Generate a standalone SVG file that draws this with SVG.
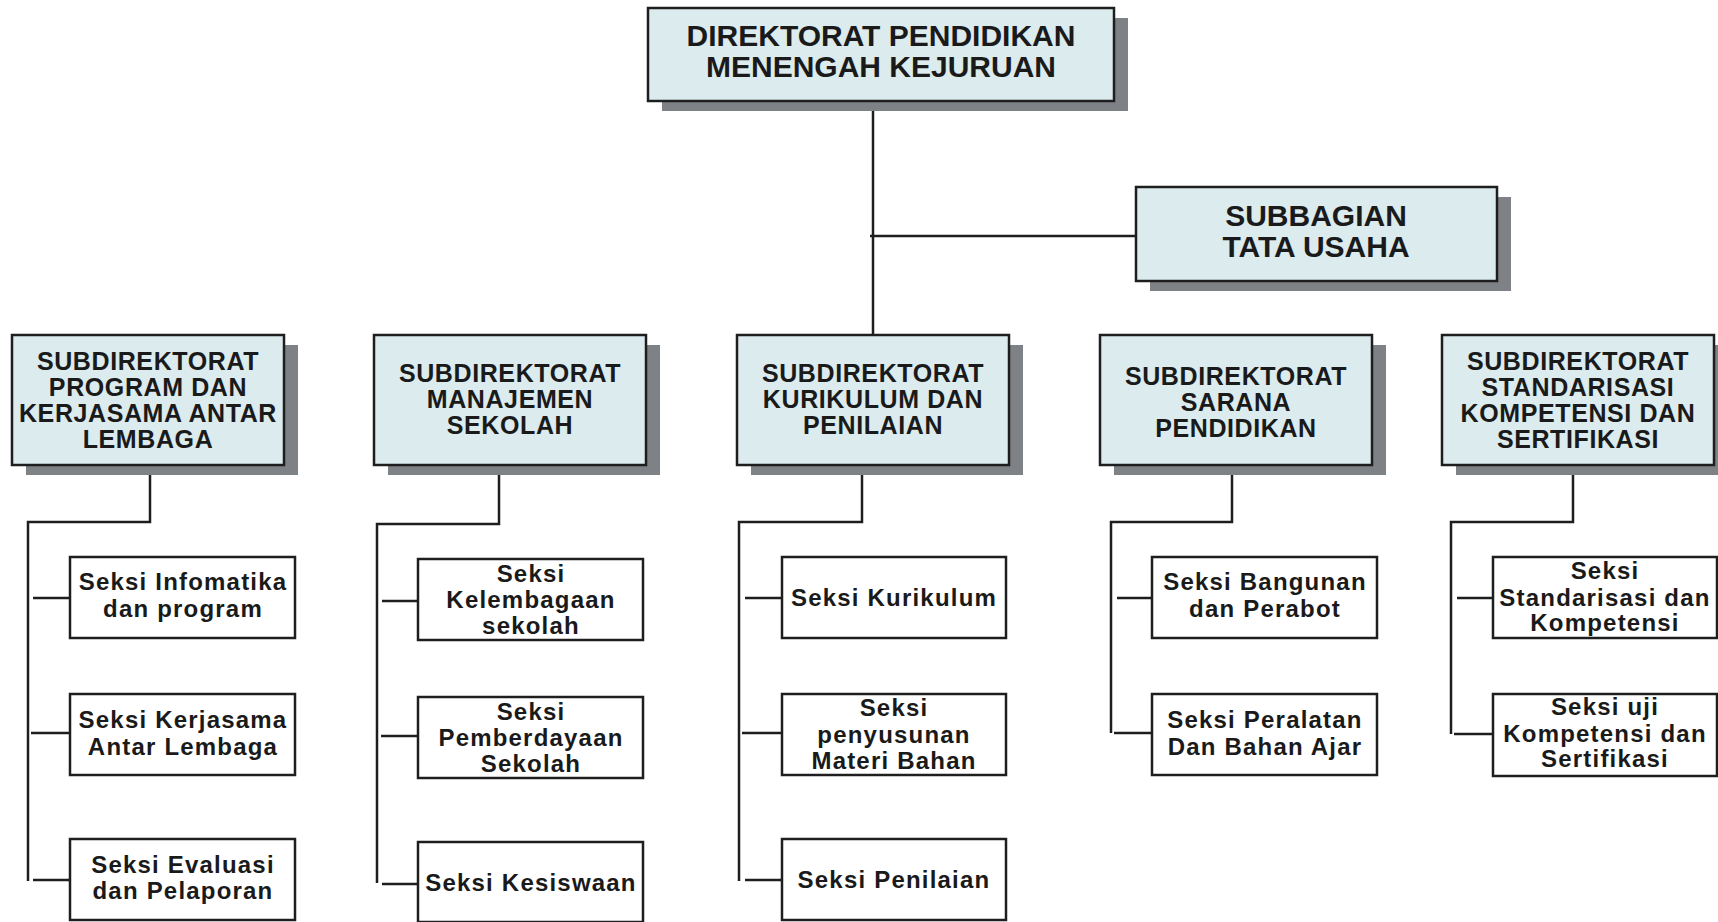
<svg xmlns="http://www.w3.org/2000/svg" width="1718" height="922" viewBox="0 0 1718 922">
<style>
.bg{fill:#ffffff}
.sh{fill:#7e8185}
.bx{fill:#dbebee;stroke:#1e1e1e;stroke-width:2.5}
.ch{fill:#ffffff;stroke:#1e1e1e;stroke-width:2.5}
.ln{fill:none;stroke:#1e1e1e;stroke-width:2.5}
text{font-family:"Liberation Sans",Arial,sans-serif;font-weight:bold;fill:#1a1a1a;text-anchor:middle}
.t1{font-size:30px}
.t2{font-size:25px;letter-spacing:0.6px}
.t3{font-size:24px;letter-spacing:1.2px}
</style>
<rect class="bg" x="0" y="0" width="1718" height="922"/>

<g id="connectors">
<path class="ln" d="M873,101 V335"/>
<path class="ln" d="M870,236 H1136"/>
<path class="ln" d="M150,465 V522 H28 V881"/>
<path class="ln" d="M33,598 H70 M31,733 H70 M33,880 H70"/>
<path class="ln" d="M499,465 V524 H377 V883"/>
<path class="ln" d="M382,601 H418 M381,736 H418 M382,884 H418"/>
<path class="ln" d="M862,465 V522 H739 V881"/>
<path class="ln" d="M745,598 H782 M742,733 H782 M745,880 H782"/>
<path class="ln" d="M1232,465 V522 H1111 V733"/>
<path class="ln" d="M1117,598 H1152 M1114,733 H1152"/>
<path class="ln" d="M1573,465 V522 H1451 V734"/>
<path class="ln" d="M1457,598 H1493 M1454,734 H1493"/>
</g>

<g id="direktorat">
<rect class="sh" x="662" y="18" width="466" height="93"/>
<rect class="bx" x="648" y="8" width="466" height="93"/>
<text class="t1" x="881" y="46">DIREKTORAT PENDIDIKAN</text>
<text class="t1" x="881" y="77">MENENGAH KEJURUAN</text>
</g>

<g id="subbagian">
<rect class="sh" x="1150" y="197" width="361" height="94"/>
<rect class="bx" x="1136" y="187" width="361" height="94"/>
<text class="t1" x="1316" y="226">SUBBAGIAN</text>
<text class="t1" x="1316" y="257">TATA USAHA</text>
</g>

<g id="sub1">
<rect class="sh" x="26" y="345" width="272" height="130"/>
<rect class="bx" x="12" y="335" width="272" height="130"/>
<text class="t2" x="148" y="370">SUBDIREKTORAT</text>
<text class="t2" x="148" y="396">PROGRAM DAN</text>
<text class="t2" x="148" y="422">KERJASAMA ANTAR</text>
<text class="t2" x="148" y="448">LEMBAGA</text>
</g>

<g id="sub2">
<rect class="sh" x="388" y="345" width="272" height="130"/>
<rect class="bx" x="374" y="335" width="272" height="130"/>
<text class="t2" x="510" y="382">SUBDIREKTORAT</text>
<text class="t2" x="510" y="408">MANAJEMEN</text>
<text class="t2" x="510" y="434">SEKOLAH</text>
</g>

<g id="sub3">
<rect class="sh" x="751" y="345" width="272" height="130"/>
<rect class="bx" x="737" y="335" width="272" height="130"/>
<text class="t2" x="873" y="382">SUBDIREKTORAT</text>
<text class="t2" x="873" y="408">KURIKULUM DAN</text>
<text class="t2" x="873" y="434">PENILAIAN</text>
</g>

<g id="sub4">
<rect class="sh" x="1114" y="345" width="272" height="130"/>
<rect class="bx" x="1100" y="335" width="272" height="130"/>
<text class="t2" x="1236" y="385">SUBDIREKTORAT</text>
<text class="t2" x="1236" y="411">SARANA</text>
<text class="t2" x="1236" y="437">PENDIDIKAN</text>
</g>

<g id="sub5">
<rect class="sh" x="1456" y="345" width="272" height="130"/>
<rect class="bx" x="1442" y="335" width="272" height="130"/>
<text class="t2" x="1578" y="370">SUBDIREKTORAT</text>
<text class="t2" x="1578" y="396">STANDARISASI</text>
<text class="t2" x="1578" y="422">KOMPETENSI DAN</text>
<text class="t2" x="1578" y="448">SERTIFIKASI</text>
</g>

<g id="seksi-informatika">
<rect class="ch" x="70" y="557" width="225" height="81"/>
<text class="t3" x="183" y="590">Seksi Infomatika</text>
<text class="t3" x="183" y="617">dan program</text>
</g>
<g id="seksi-kerjasama">
<rect class="ch" x="70" y="694" width="225" height="81"/>
<text class="t3" x="183" y="728">Seksi Kerjasama</text>
<text class="t3" x="183" y="755">Antar Lembaga</text>
</g>
<g id="seksi-evaluasi">
<rect class="ch" x="70" y="839" width="225" height="81"/>
<text class="t3" x="183" y="873">Seksi Evaluasi</text>
<text class="t3" x="183" y="899">dan Pelaporan</text>
</g>

<g id="seksi-kelembagaan">
<rect class="ch" x="418" y="559" width="225" height="81"/>
<text class="t3" x="531" y="582">Seksi</text>
<text class="t3" x="531" y="608">Kelembagaan</text>
<text class="t3" x="531" y="634">sekolah</text>
</g>
<g id="seksi-pemberdayaan">
<rect class="ch" x="418" y="697" width="225" height="81"/>
<text class="t3" x="531" y="720">Seksi</text>
<text class="t3" x="531" y="746">Pemberdayaan</text>
<text class="t3" x="531" y="772">Sekolah</text>
</g>
<g id="seksi-kesiswaan">
<rect class="ch" x="418" y="842" width="225" height="80"/>
<text class="t3" x="531" y="891">Seksi Kesiswaan</text>
</g>

<g id="seksi-kurikulum">
<rect class="ch" x="782" y="557" width="224" height="81"/>
<text class="t3" x="894" y="606">Seksi Kurikulum</text>
</g>
<g id="seksi-penyusunan">
<rect class="ch" x="782" y="694" width="224" height="81"/>
<text class="t3" x="894" y="716">Seksi</text>
<text class="t3" x="894" y="743">penyusunan</text>
<text class="t3" x="894" y="769">Materi Bahan</text>
</g>
<g id="seksi-penilaian">
<rect class="ch" x="782" y="839" width="224" height="81"/>
<text class="t3" x="894" y="888">Seksi Penilaian</text>
</g>

<g id="seksi-bangunan">
<rect class="ch" x="1152" y="557" width="225" height="81"/>
<text class="t3" x="1265" y="590">Seksi Bangunan</text>
<text class="t3" x="1265" y="617">dan Perabot</text>
</g>
<g id="seksi-peralatan">
<rect class="ch" x="1152" y="694" width="225" height="81"/>
<text class="t3" x="1265" y="728">Seksi Peralatan</text>
<text class="t3" x="1265" y="755">Dan Bahan Ajar</text>
</g>

<g id="seksi-standarisasi">
<rect class="ch" x="1493" y="557" width="224" height="81"/>
<text class="t3" x="1605" y="579">Seksi</text>
<text class="t3" x="1605" y="606">Standarisasi dan</text>
<text class="t3" x="1605" y="631">Kompetensi</text>
</g>
<g id="seksi-uji">
<rect class="ch" x="1493" y="694" width="224" height="82"/>
<text class="t3" x="1605" y="715">Seksi uji</text>
<text class="t3" x="1605" y="742">Kompetensi dan</text>
<text class="t3" x="1605" y="767">Sertifikasi</text>
</g>
</svg>
